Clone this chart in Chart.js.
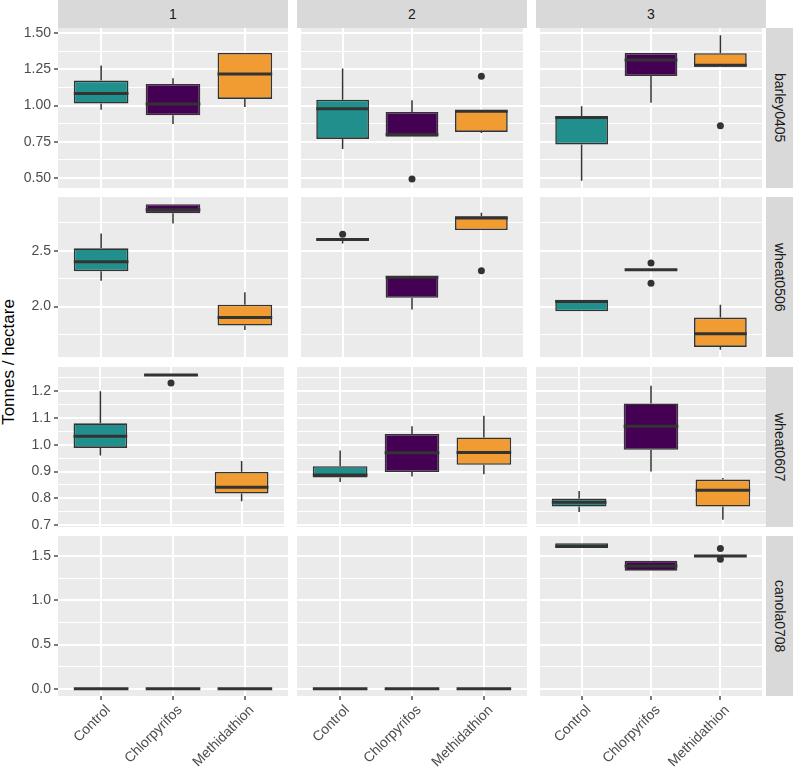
<!DOCTYPE html>
<html><head><meta charset="utf-8">
<script src="https://cdn.jsdelivr.net/npm/chart.js@4.4.1/dist/chart.umd.min.js"></script>
<style>
html,body{margin:0;padding:0;background:#fff;}
#wrap{position:relative;width:793px;height:770px;overflow:hidden;font-family:"Liberation Sans",Arial,Helvetica,sans-serif;background:#fff;}
.cv{position:absolute;}
.strip{position:absolute;background:#D9D9D9;color:#1A1A1A;font-size:14px;display:flex;align-items:center;justify-content:center;}
.vtxt{writing-mode:vertical-rl;white-space:nowrap;}
#ytitle{position:absolute;left:9px;top:362px;transform:translate(-50%,-50%) rotate(-90deg);font-size:17px;color:#000;white-space:nowrap;}
</style></head>
<body><div id="wrap"><div id="ytitle">Tonnes / hectare</div></div>
<script>
const crops = ['barley0405', 'wheat0506', 'wheat0607', 'canola0708'];
const blocks = ['1', '2', '3'];
const treatments = ['Control', 'Chlorpyrifos', 'Methidathion'];

// [lower whisker, Q1, median, Q3, upper whisker] for Control, Chlorpyrifos, Methidathion; one list per block
const barley0405 = [
  [[0.972, 1.014, 1.083, 1.173, 1.277], [0.873, 0.933, 1.012, 1.150, 1.189], [0.991, 1.046, 1.219, 1.364, 1.364]],
  [[0.701, 0.770, 0.979, 1.041, 1.256], [0.784, 0.784, 0.800, 0.956, 1.037], [0.811, 0.818, 0.961, 0.965, 0.965]],
  [[0.481, 0.732, 0.918, 0.924, 0.995], [1.019, 1.205, 1.316, 1.364, 1.364], [1.268, 1.268, 1.279, 1.362, 1.486]]
];
const wheat0506 = [
  [[2.230, 2.317, 2.401, 2.521, 2.655], [2.743, 2.835, 2.868, 2.916, 2.916], [1.790, 1.829, 1.901, 2.017, 2.128]],
  [[2.565, 2.592, 2.600, 2.612, 2.612], [1.973, 2.078, 2.263, 2.269, 2.269], [2.685, 2.685, 2.793, 2.808, 2.841]],
  [[1.957, 1.957, 2.045, 2.060, 2.060], [2.322, 2.322, 2.329, 2.334, 2.334], [1.613, 1.638, 1.757, 1.901, 2.015]]
];
const wheat0607 = [
  [[0.960, 0.988, 1.032, 1.080, 1.200], [1.257, 1.257, 1.260, 1.263, 1.263], [0.789, 0.818, 0.841, 0.899, 0.939]],
  [[0.861, 0.878, 0.887, 0.920, 0.978], [0.881, 0.898, 0.970, 1.040, 1.069], [0.890, 0.925, 0.971, 1.027, 1.108]],
  [[0.749, 0.769, 0.785, 0.799, 0.827], [0.900, 0.981, 1.069, 1.154, 1.220], [0.720, 0.769, 0.830, 0.870, 0.876]]
];
const canola0708 = [
  [[0, 0, 0, 0, 0], [0, 0, 0, 0, 0], [0, 0, 0, 0, 0]],
  [[0, 0, 0, 0, 0], [0, 0, 0, 0, 0], [0, 0, 0, 0, 0]],
  [[1.595, 1.595, 1.615, 1.648, 1.648], [1.338, 1.338, 1.391, 1.451, 1.451], [1.504, 1.504, 1.504, 1.504, 1.504]]
];

// outliers per block, per treatment
const barley0405Outliers = [[[], [], []], [[], [0.493], [1.203]], [[], [], [0.860]]];
const wheat0506Outliers = [[[], [], []], [[2.648], [], [2.320]], [[], [2.389, 2.209], []]];
const wheat0607Outliers = [[[], [1.230], []], [[], [], []], [[], [], []]];
const canola0708Outliers = [[[], [], []], [[], [], []], [[], [], [1.590, 1.466]]];

// y tick labels per crop row
const barley0405Ticks = ['0.50', '0.75', '1.00', '1.25', '1.50'];
const wheat0506Ticks = ['2.0', '2.5'];
const wheat0607Ticks = ['0.7', '0.8', '0.9', '1.0', '1.1', '1.2'];
const canola0708Ticks = ['0.0', '0.5', '1.0', '1.5'];

const rowStats = [barley0405, wheat0506, wheat0607, canola0708];
const rowOutliers = [barley0405Outliers, wheat0506Outliers, wheat0607Outliers, canola0708Outliers];
const rowTicks = [barley0405Ticks, wheat0506Ticks, wheat0607Ticks, canola0708Ticks];

// styling
const fills = ['#21908C', '#440154', '#F09C33'];
const LINE = '#333333';
const FONT = "'Liberation Sans', Arial, Helvetica, sans-serif";
const colLeft = [58, 297, 536], colW = 230;
const rowTop = [28, 197, 367, 536], rowH = 160;
const padV = 8, H = 770;

const bgPlugin = {
  id: 'panelbg',
  beforeDraw(chart) {
    const a = chart.chartArea, ctx = chart.ctx;
    ctx.save(); ctx.fillStyle = '#EBEBEB';
    ctx.fillRect(a.left, a.top, a.right - a.left, a.bottom - a.top);
    ctx.restore();
  }
};

function rowLimits(r) {
  let lo = Infinity, hi = -Infinity;
  rowStats[r].forEach((blk, b) => blk.forEach((s, t) => {
    const vals = s.concat(rowOutliers[r][b][t]);
    lo = Math.min(lo, ...vals); hi = Math.max(hi, ...vals);
  }));
  const e = (hi - lo) * 0.05;
  return [lo - e, hi + e];
}

function yTickObjs(r, lim) {
  const labs = rowTicks[r];
  const vals = labs.map(parseFloat);
  const step = vals[1] - vals[0];
  const out = vals.map((v, i) => ({value: v, mj: true, lab: labs[i]}));
  const minors = [vals[0] - step / 2].concat(vals.map(v => v + step / 2));
  minors.forEach(v => { if (v >= lim[0] && v <= lim[1]) out.push({value: v, mj: false, lab: ''}); });
  return out.filter(t => t.value >= lim[0] - 1e-9 && t.value <= lim[1] + 1e-9).sort((a, b) => a.value - b.value);
}

function datasets(stats, outs) {
  const whisk = [], med = [];
  stats.forEach((s, i) => {
    const x = i + 1;
    whisk.push({x, y: s[0]}, {x, y: s[1]}, {x, y: null}, {x, y: s[3]}, {x, y: s[4]}, {x, y: null});
    med.push({x: x - 0.38, y: s[2]}, {x: x + 0.38, y: s[2]}, {x, y: null});
  });
  return [
    {type: 'line', data: whisk, borderColor: LINE, borderWidth: 1.5, pointRadius: 0, spanGaps: false, order: 3},
    {type: 'bar', data: stats.map((s, i) => ({x: i + 1, y: [s[1], s[3]]})), backgroundColor: fills,
      borderColor: LINE, borderWidth: 1.6, borderSkipped: false, barPercentage: 0.76, categoryPercentage: 1, order: 2},
    {type: 'line', data: med, borderColor: LINE, borderWidth: 3, pointRadius: 0, spanGaps: false, borderCapStyle: 'butt', order: 1},
    {type: 'scatter', data: outs.flatMap((o, i) => o.map(v => ({x: i + 1, y: v}))), pointRadius: 3.5,
      backgroundColor: LINE, borderWidth: 0, order: 0}
  ];
}

const wrap = document.getElementById('wrap');

blocks.forEach((b, c) => {
  const s = document.createElement('div');
  s.className = 'strip';
  s.style.cssText = `left:${colLeft[c]}px;top:0px;width:${colW}px;height:28px;`;
  s.textContent = b;
  wrap.appendChild(s);
});
crops.forEach((cr, r) => {
  const s = document.createElement('div');
  s.className = 'strip';
  s.style.cssText = `left:${colLeft[2] + colW}px;top:${rowTop[r]}px;width:27px;height:${rowH}px;`;
  const sp = document.createElement('span'); sp.className = 'vtxt'; sp.textContent = cr;
  s.appendChild(sp);
  wrap.appendChild(s);
});

crops.forEach((cr, r) => {
  const lim = rowLimits(r);
  blocks.forEach((b, c) => {
    const isLeft = c === 0, isBottom = r === 3;
    const left = isLeft ? 0 : colLeft[c];
    const width = colLeft[c] + colW - left;
    const top = rowTop[r] - padV;
    const height = isBottom ? H - top : rowH + 2 * padV;
    const div = document.createElement('div');
    div.className = 'cv';
    div.style.cssText = `left:${left}px;top:${top}px;width:${width}px;height:${height}px;`;
    const cv = document.createElement('canvas');
    div.appendChild(cv); wrap.appendChild(div);
    const yt = yTickObjs(r, lim);
    new Chart(cv, {
      type: 'bar',
      data: {datasets: datasets(rowStats[r][c], rowOutliers[r][c])},
      plugins: [bgPlugin],
      options: {
        responsive: true, maintainAspectRatio: false, animation: false, events: [],
        layout: {padding: {top: padV, bottom: isBottom ? 0 : padV, left: 0, right: 0}},
        plugins: {legend: {display: false}, tooltip: {enabled: false}},
        scales: {
          x: {
            type: 'linear', min: 0.4, max: 3.6, bounds: 'data', offset: false,
            afterBuildTicks: s => { s.ticks = treatments.map((t, i) => ({value: i + 1})); },
            afterFit: s => { s.height = isBottom ? H - (rowTop[3] + rowH) : 0; s.paddingLeft = 0; s.paddingRight = 0; s.paddingTop = 0; s.paddingBottom = 0; },
            grid: {offset: false, color: '#FFFFFF', lineWidth: 2, drawTicks: isBottom, tickLength: 4, tickColor: LINE, tickWidth: 1.3},
            border: {display: false},
            ticks: {display: isBottom, autoSkip: false, minRotation: 45, maxRotation: 45, padding: 2, labelOffset: 7,
              color: '#4D4D4D', font: {family: FONT, size: 14},
              callback: v => treatments[Math.round(v) - 1]}
          },
          y: {
            type: 'linear', min: lim[0], max: lim[1], bounds: 'data',
            afterBuildTicks: s => { s.ticks = yt.map(t => ({value: t.value, mj: t.mj, lab: t.lab})); },
            afterFit: s => { s.width = isLeft ? colLeft[0] : 0; s.paddingLeft = 0; s.paddingRight = 0; s.paddingTop = 0; s.paddingBottom = 0; },
            grid: {offset: false, color: '#FFFFFF', lineWidth: ctx => (ctx.tick && ctx.tick.mj) ? 2 : 1,
              drawTicks: isLeft, tickLength: 4, tickWidth: 1.3,
              tickColor: ctx => (ctx.tick && ctx.tick.mj) ? LINE : 'rgba(0,0,0,0)'},
            border: {display: false},
            ticks: {display: isLeft, autoSkip: false, padding: 3, color: '#4D4D4D', font: {family: FONT, size: 14},
              callback: (v, i, ticks) => ticks[i].mj ? ticks[i].lab : ''}
          }
        }
      }
    });
  });
});
</script>
</body></html>
